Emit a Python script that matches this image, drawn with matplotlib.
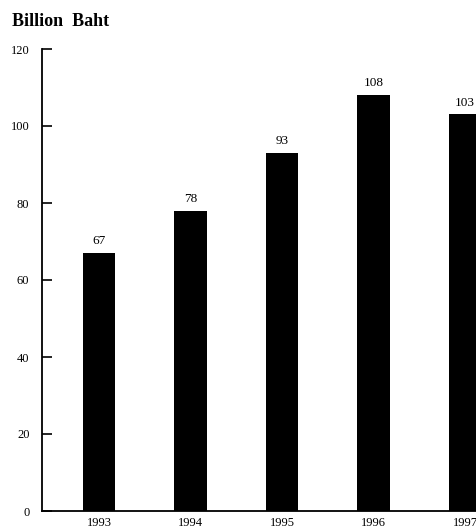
import matplotlib
matplotlib.use("Agg")
import matplotlib.pyplot as plt

years = ["1993", "1994", "1995", "1996", "1997"]
values = [67, 78, 93, 108, 103]
y_ticks = [0, 20, 40, 60, 80, 100, 120]

plt.rcParams["font.family"] = ["Liberation Serif", "DejaVu Serif"]

fig = plt.figure(figsize=(4.77, 5.30), dpi=100)
ax = fig.add_axes([42 / 477, 19 / 530, 435 / 477, 462 / 530])

x = list(range(len(years)))
ax.bar(x, values, width=0.36, color="black", zorder=2)

for xi, v in zip(x, values):
    ax.text(xi, v + 1.5, str(v), ha="center", va="bottom", fontsize=9.5)

ax.set_xlim(-0.623, 4.131)
ax.set_ylim(0, 120)
ax.set_yticks(y_ticks)
ax.set_yticklabels([str(t) for t in y_ticks], fontsize=9)
ax.set_xticks(x)
ax.set_xticklabels(years, fontsize=9)

ax.tick_params(axis="y", direction="in", length=7, width=1.2, pad=9)
ax.tick_params(axis="x", length=0, pad=4.5)

for side in ("top", "right"):
    ax.spines[side].set_visible(False)
ax.spines["left"].set_linewidth(1.3)
ax.spines["bottom"].set_linewidth(1.3)

fig.text(12 / 477, 1 - 22 / 530, "Billion  Baht", fontsize=13,
         fontweight="bold", ha="left", va="center")

fig.savefig("out.png", dpi=100)
